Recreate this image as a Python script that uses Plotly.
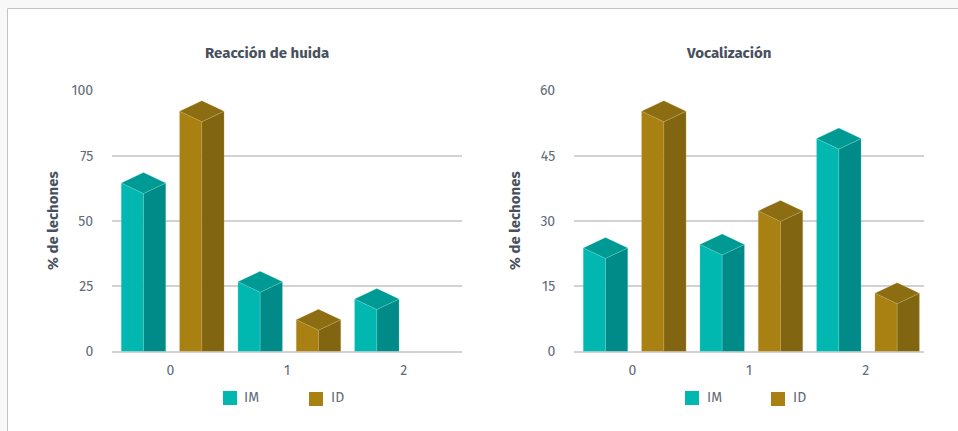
import plotly.graph_objects as go

categories = [0, 1, 2]
series_names = ["IM", "ID"]
huida_im = [64.5, 26.7, 20.1]
huida_id = [92.0, 12.2, 0.0]
vocal_im = [23.8, 24.6, 48.9]
vocal_id = [55.2, 32.3, 13.4]
huida_ticks = [0, 25, 50, 75, 100]
vocal_ticks = [0, 15, 30, 45, 60]
panel_titles = ["Reacción de huida", "Vocalización"]
y_title = "% de lechones"

W, H = 958, 431
FONT = "Fira Sans, Noto Sans, sans-serif"
TEXT = "#626c79"
DARK = "#47505c"
GRID = "#d2d2d2"

COL = {
    "IM": dict(front="#00b8b0", side="#008b88", top="#009a94", edge="rgba(150,230,225,0.4)"),
    "ID": dict(front="#a98112", side="#826511", top="#8c6d11", edge="rgba(215,195,130,0.4)"),
}

PLOT_TOP, PLOT_BOTTOM = 90.3, 351.5
PANELS = [
    dict(x0=112, x1=462, tx=267, ax="x", ay="y", tick=huida_ticks, im=huida_im, id=huida_id, ytx=53, leg=223),
    dict(x0=574, x1=924, tx=728.5, ax="x2", ay="y2", tick=vocal_ticks, im=vocal_im, id=vocal_id, ytx=515, leg=685),
]

BAR_W = 44.5 / (350 / 3)          # bar width in category units
OFFS = {"IM": -0.23, "ID": 0.27}
DEPTH_PX = 10.5

fig = go.Figure()


def poly(xs, ys, color, edge, ax, ay, name):
    fig.add_trace(go.Scatter(
        x=xs + xs[:1], y=ys + ys[:1], xaxis=ax, yaxis=ay, mode="lines", fill="toself",
        fillcolor=color, line=dict(color=edge, width=0.6), showlegend=False,
        hoverinfo="skip", name=name))


for p in PANELS:
    ymax = p["tick"][-1]
    d = DEPTH_PX / (PLOT_BOTTOM - PLOT_TOP) * ymax
    for name, vals in (("IM", p["im"]), ("ID", p["id"])):
        c = COL[name]
        for cat, v in zip(categories, vals):
            if v <= 0:
                continue
            xl = cat + OFFS[name] - BAR_W / 2
            xc = cat + OFFS[name]
            xr = cat + OFFS[name] + BAR_W / 2
            poly([xl, xc, xc, xl], [0, 0, v - d, v], c["front"], c["edge"], p["ax"], p["ay"], name)
            poly([xc, xr, xr, xc], [0, 0, v, v - d], c["side"], c["edge"], p["ax"], p["ay"], name)
            poly([xl, xc, xr, xc], [v, v + d, v, v - d], c["top"], c["edge"], p["ax"], p["ay"], name)


def axis_common(ticklen):
    return dict(showline=False, ticks="outside", ticklen=ticklen, tickcolor="rgba(0,0,0,0)", automargin=False,
                tickfont=dict(family=FONT, size=14, color=TEXT), fixedrange=True)


layout = dict(
    width=W, height=H, margin=dict(l=0, r=0, t=0, b=0), autosize=False,
    paper_bgcolor="#f8f8f8", plot_bgcolor="rgba(0,0,0,0)", showlegend=False,
    shapes=[], annotations=[],
)

for i, p in enumerate(PANELS):
    sx = "" if i == 0 else "2"
    layout["xaxis" + sx] = dict(
        domain=[p["x0"] / W, p["x1"] / W], range=[-0.5, 2.5], tickvals=categories,
        ticktext=[str(c) for c in categories], showgrid=False, zeroline=False,
        anchor="y" + sx, **axis_common(6))
    layout["yaxis" + sx] = dict(
        domain=[1 - PLOT_BOTTOM / H, 1 - PLOT_TOP / H], range=[0, p["tick"][-1]], tickvals=p["tick"],
        ticktext=[str(t) for t in p["tick"]], showgrid=True, gridcolor=GRID, gridwidth=1.5,
        zeroline=True, zerolinecolor=GRID, zerolinewidth=1.5, anchor="x" + sx, **axis_common(15))
    layout["annotations"].append(dict(
        text=f"<b>{panel_titles[i]}</b>", x=p["tx"] / W, y=1 - 53 / H, xref="paper", yref="paper",
        showarrow=False, xanchor="center", yanchor="middle",
        font=dict(family=FONT, size=15, color=DARK)))
    layout["annotations"].append(dict(
        text=f"<b>{y_title}</b>", x=p["ytx"] / W, y=1 - 221 / H, xref="paper", yref="paper",
        showarrow=False, textangle=-90, xanchor="center", yanchor="middle",
        font=dict(family=FONT, size=15, color=DARK)))
    for j, name in enumerate(series_names):
        lx = p["leg"] + 86 * j
        ly = 391 + j
        layout["shapes"].append(dict(
            type="rect", xref="paper", yref="paper", x0=lx / W, x1=(lx + 14) / W,
            y0=1 - (ly + 14) / H, y1=1 - ly / H, fillcolor=COL[name]["front"], line_width=0))
        layout["annotations"].append(dict(
            text=name, x=(lx + 19.5) / W, y=1 - 397 / H, xref="paper", yref="paper", showarrow=False,
            xanchor="left", yanchor="middle", font=dict(family=FONT, size=14, color=TEXT)))

# white card behind the charts
layout["shapes"].insert(0, dict(
    type="rect", xref="paper", yref="paper", x0=7.5 / W, x1=1.005, y0=-0.005, y1=1 - 8.5 / H,
    fillcolor="white", line=dict(color="#c4c4c4", width=1), layer="below"))

fig.update_layout(**layout)
fig.write_html("out.html", post_script="document.body.style.margin='0';", config=dict(displayModeBar=False))
